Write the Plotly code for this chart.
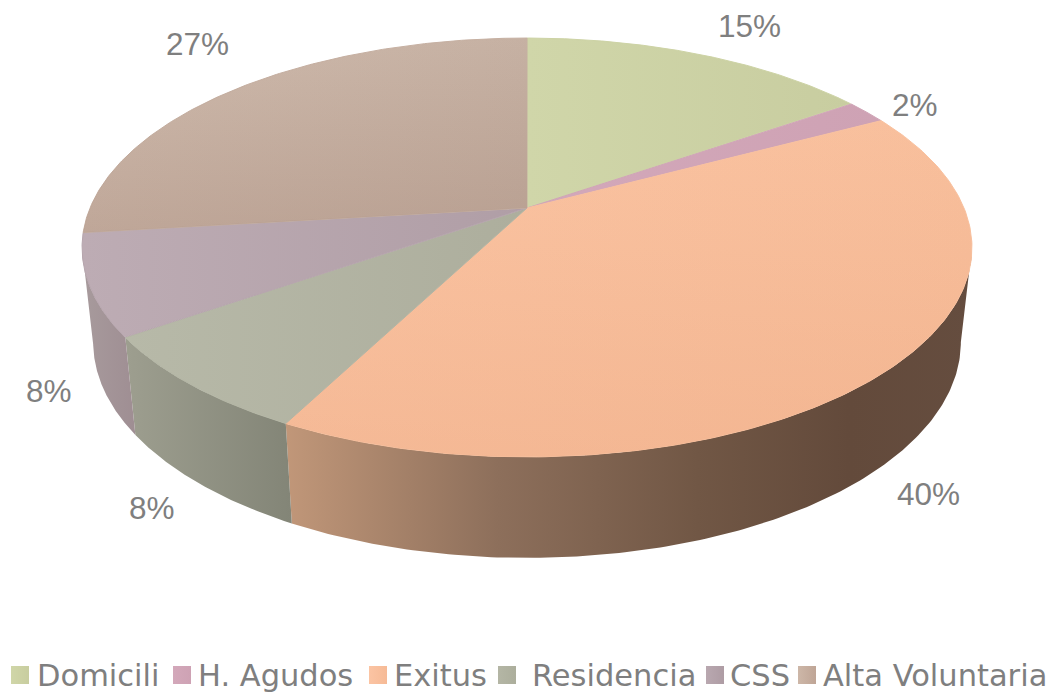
import numpy as np
import plotly.graph_objects as go

# ---- data ----
categories = ["Domicili", "H. Agudos", "Exitus", "Residencia", "CSS", "Alta Voluntaria"]
values = [15.3, 1.9, 40.4, 7.7, 7.8, 26.9]

# ---- style ----
TEXT = "#7f7f7f"
W, H = 1058, 693
CX, CY = 527, 208       # apex of the pie
A, B, K = 437, 202, 0.1885   # perspective of the top disc
SX, SY, DY = 0.975, 1.03, 301.5  # map of the top rim to the bottom rim
VISIBLE = (100.9, 259.1)  # rim angles between the silhouette tangents

top_style = [
    ("horizontal", 527, 850, "#d0d6a9", "#c8cda0"),
    ("horizontal", 527, 882, "#d3a8ba", "#cea2b4"),
    ("horizontal", 285, 972, "#fbc5a4", "#f8bf9c"),
    ("horizontal", 127, 527, "#b7b9a8", "#adae9d"),
    ("horizontal", 83, 527, "#bdacb4", "#b09ea6"),
    ("horizontal", 83, 527, "#cfbbad", "#c6b1a3"),
]
overlay_style = {
    2: (120, 456, "rgba(232,160,120,0)", "rgba(232,160,120,0.32)"),
    5: (38, 232, "rgba(150,115,100,0)", "rgba(150,115,100,0.28)"),
}
side_style = {
    2: (285, 972, [(0, "#c19779"), (0.31, "#8d6f5b"), (0.6, "#715745"), (0.82, "#634a3b"), (1, "#654d3f")]),
    3: (127, 291, [(0, "#9d9e8f"), (1, "#838577")]),
    4: (84, 135, [(0, "#a79a9c"), (1, "#9f8e93")]),
}
seam = ["#cdd3a5", "#d0a5b7", "#f9c2a0", "#b2b4a3", "#b6a5ad", "#c6b0a2"]
swatch = ["#d0d6a8", "#d3a8ba", "#fbc4a3", "#b4b6a5", "#b9a8b0", "#cdb7a8"]
swatch2 = ["#c8cd9f", "#cea2b4", "#f6ba96", "#acae9c", "#ae9ca4", "#bfa596"]
swatch_x = [20, 182, 378, 507, 715, 807]
legend_x = [37, 198, 394, 532, 730, 823]
label_pos = [(749, 26), (915, 105), (928, 494), (152, 508), (49, 391), (197, 44)]


def rim(theta_deg):
    t = np.radians(theta_deg)
    u, v = np.sin(t), np.cos(t)
    w = 1 + K * v
    return CX + A * u / w, CY - B * v / w


def bottom(theta_deg):
    x, y = rim(theta_deg)
    return CX + SX * (x - CX), DY + SY * (y - CY)


def scale(c0, c1):
    return [[0, c0], [1, c1]]


frac = np.array(values) / sum(values) * 360
ends = np.cumsum(frac)
starts = ends - frac

fig = go.Figure()

# sides (only the slices facing the viewer, cut at the silhouette)
for i in [2, 3, 4]:
    th = np.linspace(max(starts[i], VISIBLE[0]), min(ends[i], VISIBLE[1]), 160)
    xt, yt = rim(th)
    xb, yb = bottom(th)
    x = np.concatenate([xt, xb[::-1], xt[:1]])
    y = np.concatenate([yt, yb[::-1], yt[:1]])
    s0, s1, cs = side_style[i]
    fig.add_trace(go.Scatter(
        x=x, y=y, mode="lines", line=dict(width=0), fill="toself",
        fillgradient=dict(type="horizontal", start=s0, stop=s1, colorscale=[list(c) for c in cs]),
        hoverinfo="skip", showlegend=False, name=categories[i] + " side"))

# top surfaces
for i, cat in enumerate(categories):
    th = np.linspace(starts[i], ends[i], 200)
    xt, yt = rim(th)
    x = np.concatenate([[CX], xt, [CX]])
    y = np.concatenate([[CY], yt, [CY]])
    kind, s0, s1, c0, c1 = top_style[i]
    fig.add_trace(go.Scatter(
        x=x, y=y, mode="lines", line=dict(width=1, color=seam[i]), fill="toself",
        fillgradient=dict(type=kind, start=s0, stop=s1, colorscale=scale(c0, c1)),
        hoverinfo="skip", showlegend=False, name=cat))
    if i in overlay_style:
        s0, s1, c0, c1 = overlay_style[i]
        fig.add_trace(go.Scatter(
            x=x, y=y, mode="lines", line=dict(width=0), fill="toself",
            fillgradient=dict(type="vertical", start=s0, stop=s1, colorscale=scale(c0, c1)),
            hoverinfo="skip", showlegend=False, name=cat + " shade"))

# legend row
for i, cat in enumerate(categories):
    fig.add_trace(go.Scatter(
        x=[swatch_x[i]], y=[675], mode="markers",
        marker=dict(symbol="square", size=18, color=swatch[i], line=dict(width=0),
                    gradient=dict(type="horizontal", color=swatch2[i])),
        hoverinfo="skip", showlegend=False))
    fig.add_annotation(x=legend_x[i], y=675, text=cat, showarrow=False, xanchor="left", yanchor="middle",
                       xshift=-2, font=dict(family="DejaVu Sans", size=30.5, color=TEXT))

# data labels
for (lx, ly), v in zip(label_pos, values):
    fig.add_annotation(x=lx, y=ly, text=f"{round(v)}%", showarrow=False, xanchor="center", yanchor="middle",
                       font=dict(family="Liberation Sans", size=31.5, color=TEXT))

fig.update_layout(
    width=W, height=H, autosize=False, margin=dict(l=0, r=0, t=0, b=0),
    paper_bgcolor="white", plot_bgcolor="white", showlegend=False,
    xaxis=dict(range=[0, W], visible=False, fixedrange=True),
    yaxis=dict(range=[H, 0], visible=False, fixedrange=True),
)
fig.write_html("out.html", config=dict(displayModeBar=False),
               post_script="document.body.style.margin='0';document.body.style.overflow='hidden';")
